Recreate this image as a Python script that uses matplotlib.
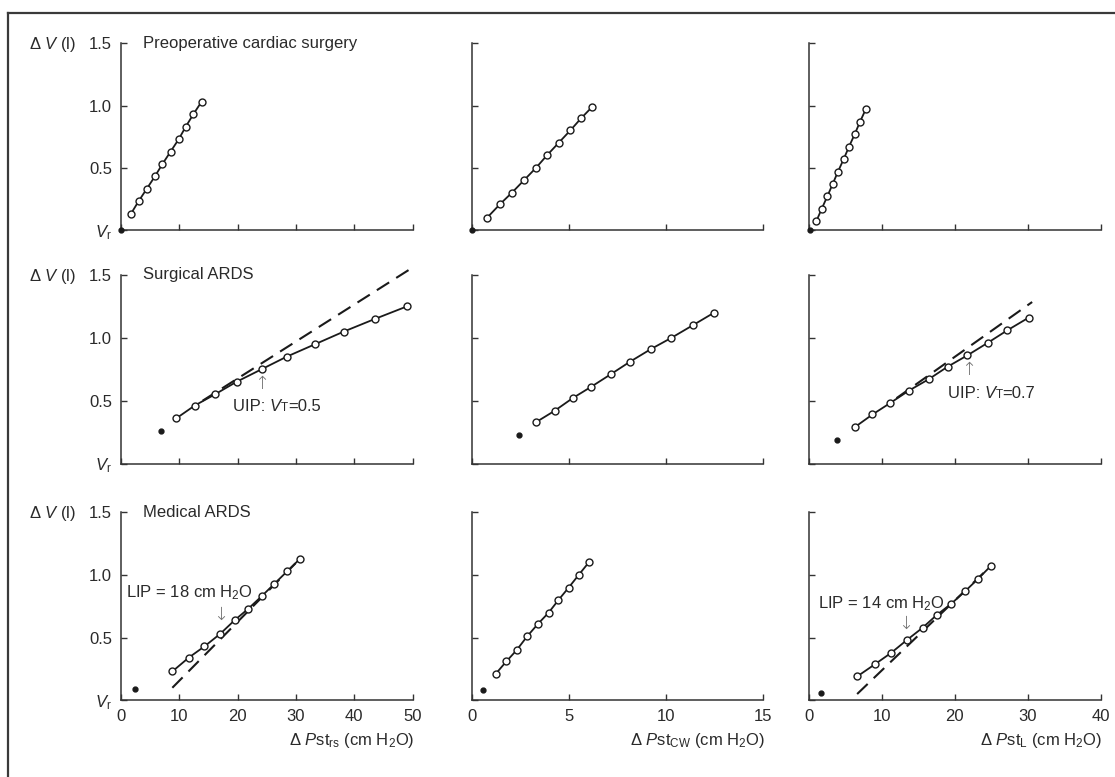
import matplotlib
matplotlib.use('Agg')
import matplotlib.pyplot as plt
from matplotlib.lines import Line2D
from matplotlib.offsetbox import TextArea, HPacker, AnnotationBbox

plt.rcParams['font.family'] = ['Liberation Sans', 'DejaVu Sans']
plt.rcParams['mathtext.fontset'] = 'custom'
plt.rcParams['mathtext.rm'] = 'Liberation Sans'
plt.rcParams['mathtext.it'] = 'Liberation Sans:italic'
plt.rcParams['mathtext.bf'] = 'Liberation Sans:bold'

# ---------------- data ----------------
row_titles = ["Preoperative cardiac surgery", "Surgical ARDS", "Medical ARDS"]
x_labels = [r"Δ $\mathit{P}$st$_{\mathrm{rs}}$ (cm H$_2$O)",
            r"Δ $\mathit{P}$st$_{\mathrm{CW}}$ (cm H$_2$O)",
            r"Δ $\mathit{P}$st$_{\mathrm{L}}$ (cm H$_2$O)"]
x_max = [50, 15, 40]
x_ticks = [[0, 10, 20, 30, 40, 50], [0, 5, 10, 15], [0, 10, 20, 30, 40]]
y_ticks = [0, 0.5, 1.0, 1.5]
y_ticklabels = [r"$\mathit{V}_{\mathrm{r}}$", "0.5", "1.0", "1.5"]

pre_rs_p = [1.7, 3.0, 4.4, 5.8, 7.1, 8.5, 9.9, 11.1, 12.4, 13.8]
pre_rs_v = [0.13, 0.23, 0.33, 0.43, 0.53, 0.63, 0.73, 0.83, 0.93, 1.03]
pre_rs_vr = (0.0, 0.0)
pre_cw_p = [0.8, 1.47, 2.07, 2.69, 3.31, 3.87, 4.47, 5.07, 5.64, 6.2]
pre_cw_v = [0.10, 0.21, 0.30, 0.40, 0.50, 0.60, 0.70, 0.80, 0.90, 0.99]
pre_cw_vr = (0.0, 0.0)
pre_l_p = [1.0, 1.74, 2.51, 3.25, 3.98, 4.76, 5.49, 6.27, 7.0, 7.78]
pre_l_v = [0.07, 0.17, 0.27, 0.37, 0.47, 0.57, 0.67, 0.77, 0.87, 0.97]
pre_l_vr = (0.1, 0.0)

sur_rs_p = [9.5, 12.6, 16.1, 19.8, 24.1, 28.4, 33.3, 38.2, 43.5, 49.0]
sur_rs_v = [0.36, 0.46, 0.55, 0.65, 0.75, 0.85, 0.95, 1.05, 1.15, 1.25]
sur_rs_vr = (6.9, 0.26)
sur_rs_fit_p = [14.0, 50.0]
sur_rs_fit_v = [0.50, 1.56]
sur_cw_p = [3.32, 4.27, 5.19, 6.14, 7.15, 8.14, 9.21, 10.27, 11.37, 12.46]
sur_cw_v = [0.33, 0.42, 0.52, 0.61, 0.71, 0.81, 0.91, 1.00, 1.10, 1.20]
sur_cw_vr = (2.42, 0.23)
sur_l_p = [6.3, 8.7, 11.1, 13.7, 16.4, 19.0, 21.7, 24.5, 27.2, 30.1]
sur_l_v = [0.29, 0.39, 0.48, 0.58, 0.67, 0.77, 0.86, 0.96, 1.06, 1.16]
sur_l_vr = (3.9, 0.19)
sur_l_fit_p = [12.0, 30.6]
sur_l_fit_v = [0.52, 1.285]

med_rs_p = [8.8, 11.6, 14.3, 17.0, 19.5, 21.8, 24.1, 26.3, 28.5, 30.7]
med_rs_v = [0.23, 0.34, 0.43, 0.53, 0.64, 0.73, 0.83, 0.93, 1.03, 1.13]
med_rs_vr = (2.4, 0.09)
med_rs_fit_p = [8.8, 30.7]
med_rs_fit_v = [0.10, 1.13]
med_cw_p = [1.23, 1.78, 2.31, 2.85, 3.41, 3.96, 4.46, 4.99, 5.5, 6.02]
med_cw_v = [0.21, 0.31, 0.40, 0.51, 0.61, 0.70, 0.80, 0.90, 1.00, 1.10]
med_cw_vr = (0.57, 0.08)
med_l_p = [6.6, 9.1, 11.3, 13.4, 15.6, 17.5, 19.5, 21.4, 23.2, 24.9]
med_l_v = [0.19, 0.29, 0.38, 0.48, 0.58, 0.68, 0.77, 0.87, 0.97, 1.07]
med_l_vr = (1.6, 0.06)
med_l_fit_p = [6.6, 24.9]
med_l_fit_v = [0.05, 1.07]

panels = [
    [(pre_rs_p, pre_rs_v, pre_rs_vr, None), (pre_cw_p, pre_cw_v, pre_cw_vr, None), (pre_l_p, pre_l_v, pre_l_vr, None)],
    [(sur_rs_p, sur_rs_v, sur_rs_vr, (sur_rs_fit_p, sur_rs_fit_v)), (sur_cw_p, sur_cw_v, sur_cw_vr, None),
     (sur_l_p, sur_l_v, sur_l_vr, (sur_l_fit_p, sur_l_fit_v))],
    [(med_rs_p, med_rs_v, med_rs_vr, (med_rs_fit_p, med_rs_fit_v)), (med_cw_p, med_cw_v, med_cw_vr, None),
     (med_l_p, med_l_v, med_l_vr, (med_l_fit_p, med_l_fit_v))],
]

# ---------------- layout ----------------
W, H = 1115, 777
fig = plt.figure(figsize=(W / 100, H / 100), dpi=100)
col_left = [121, 471.7, 809]
col_w = 291.7
row_tb = [(43.3, 230), (275, 463.5), (512.3, 700.3)]

TXT = '#2a2a2a'
LINE = '#1a1a1a'
ARROW = '#707070'
FS = 12

# outer frame (left and top edges)
fig.add_artist(Line2D([8 / W, 8 / W], [-0.01, 1 - 13 / H], transform=fig.transFigure, color='#3a3a3a', lw=1.6))
fig.add_artist(Line2D([8 / W, 1.01], [1 - 13 / H, 1 - 13 / H], transform=fig.transFigure, color='#3a3a3a', lw=1.6))


def uip(ax, x, y, val):
    kw = dict(size=FS, color=TXT)
    parts = [TextArea("UIP:\u00a0", textprops=kw),
             TextArea("V", textprops=dict(kw, style='italic')),
             TextArea("T", textprops=dict(size=8.5, color=TXT)),
             TextArea("=" + val, textprops=kw)]
    box = HPacker(children=parts, align="baseline", pad=0, sep=0)
    ab = AnnotationBbox(box, (x, y), xycoords='data', frameon=False, box_alignment=(0, 0.5), pad=0)
    ax.add_artist(ab)


def arrow(ax, x, y, ch):
    ax.text(x, y, ch, ha='center', va='center', fontsize=13, color=ARROW,
            family='DejaVu Sans', fontweight='light')


for r in range(3):
    top, bot = row_tb[r]
    for c in range(3):
        ax = fig.add_axes([col_left[c] / W, 1 - bot / H, col_w / W, (bot - top) / H])
        p, v, vr, fit = panels[r][c]
        if fit is not None:
            ax.plot(fit[0], fit[1], color=LINE, lw=1.5, dashes=(7, 4), zorder=2, clip_on=False)
        ax.plot(p, v, color=LINE, lw=1.3, marker='o', ms=5, mfc='white', mec=LINE, mew=1.0, zorder=3)
        ax.plot([vr[0]], [vr[1]], 'o', color=LINE, ms=3.5, clip_on=False, zorder=4)
        ax.set_xlim(0, x_max[c])
        ax.set_ylim(0, 1.5)
        ax.set_xticks(x_ticks[c])
        ax.set_yticks(y_ticks)
        for s in ['top', 'right']:
            ax.spines[s].set_visible(False)
        for s in ['left', 'bottom']:
            ax.spines[s].set_linewidth(1.1)
            ax.spines[s].set_color('#333333')
        ax.tick_params(direction='in', length=4.5, width=1.0, color='#333333',
                       labelsize=FS, labelcolor=TXT)
        ax.tick_params(axis='x', pad=6.5)
        ax.tick_params(axis='y', pad=6.5)
        if c == 0:
            ax.set_yticklabels(y_ticklabels)
            ax.text(0.075, 1.0, row_titles[r], transform=ax.transAxes, ha='left', va='center',
                    fontsize=FS, color=TXT)
            fig.text(29 / W, 1 - (top + 1.5) / H, r"Δ $\mathit{V}$ (l)", ha='left', va='center',
                     fontsize=FS, color=TXT)
        else:
            ax.set_yticklabels([])
        if r == 2:
            ax.annotate(x_labels[c], xy=(1, 0), xycoords='axes fraction', xytext=(1, -29),
                        textcoords='offset points', ha='right', va='center', fontsize=FS, color=TXT)
        else:
            ax.set_xticklabels([])

        # annotations
        if r == 1 and c == 0:
            arrow(ax, 24.1, 0.63, "↑")
            uip(ax, 19.2, 0.45, "0.5")
        if r == 1 and c == 2:
            arrow(ax, 21.95, 0.745, "↑")
            uip(ax, 19.0, 0.558, "0.7")
        if r == 2 and c == 0:
            ax.text(0.8, 0.86, "LIP = 18 cm H$_2$O", ha='left', va='center', fontsize=FS, color=TXT)
            arrow(ax, 17.1, 0.68, "↓")
        if r == 2 and c == 2:
            ax.text(1.2, 0.77, "LIP = 14 cm H$_2$O", ha='left', va='center', fontsize=FS, color=TXT)
            arrow(ax, 13.2, 0.61, "↓")

fig.savefig('out.png', dpi=100)
